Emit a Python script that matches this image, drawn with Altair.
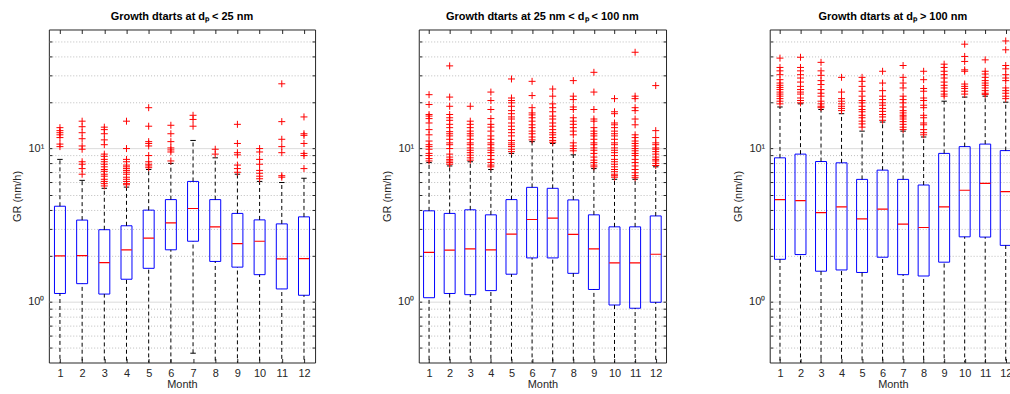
import altair as alt
import pandas as pd

MONTHS = list(range(1, 13))
TITLES = [
    "Growth dtarts at dₚ < 25 nm",
    "Growth dtarts at 25 nm < dₚ < 100 nm",
    "Growth dtarts at dₚ > 100 nm",
]
GRID_VALUES = [0.5, 0.6, 0.7, 0.8, 0.9, 1, 2, 3, 4, 5, 6, 7, 8, 9, 10, 20, 30, 40, 50]

P1_Q1 = [1.13, 1.31, 1.12, 1.40, 1.65, 2.18, 2.48, 1.83, 1.68, 1.50, 1.21, 1.10]
P1_MED = [1.99, 2.00, 1.80, 2.18, 2.60, 3.27, 4.06, 3.08, 2.39, 2.48, 1.90, 1.91]
P1_Q3 = [4.20, 3.41, 2.95, 3.13, 3.96, 4.64, 6.10, 4.64, 3.77, 3.42, 3.22, 3.58]
P1_HI = [8.5, 6.2, 5.5, 5.6, 7.3, 8.0, 11.3, 8.7, 6.8, 6.1, 6.0, 6.4]
P1_LO = [0.25, 0.3, 0.22, 0.3, 0.35, 0.32, 0.46, 0.3, 0.28, 0.3, 0.25, 0.2]
P1_OUT = [
    [13.7, 13.1, 12.7, 12.3, 11.8, 10.7, 10.3],
    [15.1, 13.9, 12.7, 11.6, 10.4, 9.9, 8.2, 7.9, 7.4, 6.8],
    [13.8, 13.3, 12.5, 11.4, 10.6, 9.2, 8.9, 8.5, 8.2, 7.9, 7.6, 7.3, 7.1, 6.8, 6.6, 6.3, 6.1, 5.9, 5.7],
    [15.1, 10.0, 8.5, 8.2, 7.8, 7.6, 7.4, 7.2, 7.0, 6.8, 6.5, 6.3, 6.1, 5.9, 5.8],
    [18.5, 14.0, 11.1, 10.8, 10.4, 9.0, 8.2, 7.9, 7.7, 7.5],
    [14.2, 12.5, 11.1, 10.1, 9.8, 9.5, 8.3],
    [16.5, 15.5, 14.0],
    [9.9, 9.2],
    [14.4, 10.8, 9.4, 9.1, 7.8, 7.4, 7.0],
    [10.0, 9.5, 8.5, 7.9, 7.2, 6.9, 6.6, 6.35],
    [26.5, 15.0, 11.5, 10.3, 9.4, 6.65, 6.5],
    [16.1, 12.5, 12.2, 10.8, 9.3, 9.0, 7.4],
]

P2_Q1 = [1.06, 1.13, 1.11, 1.18, 1.51, 1.93, 1.93, 1.53, 1.20, 0.95, 0.905, 0.99]
P2_MED = [2.10, 2.17, 2.21, 2.18, 2.76, 3.44, 3.51, 2.75, 2.21, 1.79, 1.79, 2.04]
P2_Q3 = [3.92, 3.77, 3.98, 3.69, 4.64, 5.58, 5.50, 4.62, 3.69, 3.08, 3.08, 3.63]
P2_HI = [8.1, 7.7, 8.2, 7.3, 9.3, 11.1, 10.8, 9.1, 7.4, 6.3, 6.3, 7.6]
P2_LO = [0.2, 0.22, 0.2, 0.25, 0.3, 0.35, 0.33, 0.3, 0.2, 0.15, 0.15, 0.18]
P2_OUT = [
    [22.5, 19.4, 16.7, 16.3, 15.7, 14.7, 13.3, 12.3, 11.2, 10.6, 10.3, 9.9, 9.3, 9.0, 8.6, 8.3],
    [34.7, 21.7, 18.9, 16.7, 15.9, 15.3, 14.4, 13.7, 12.9, 12.5, 12.1, 11.5, 10.9, 10.6, 10.0, 9.2, 8.8, 8.5, 8.3, 8.1, 7.9],
    [18.9, 15.1, 14.4, 13.7, 13.0, 12.5, 12.1, 11.5, 10.9, 10.6, 10.1, 9.75, 9.4, 9.05, 8.7, 8.4],
    [23.4, 20.6, 18.0, 15.7, 14.4, 13.8, 13.0, 12.1, 11.5, 10.9, 10.6, 10.1, 9.75, 9.4, 9.0, 8.5, 8.1, 7.8, 7.6],
    [28.5, 21.4, 20.6, 19.9, 18.9, 17.7, 16.9, 16.1, 15.6, 14.7, 14.0, 13.3, 12.7, 12.1, 11.3, 10.9, 10.6, 10.3, 9.9, 9.55],
    [27.5, 22.2, 18.5, 17.1, 16.6, 15.9, 15.1, 14.3, 13.7, 13.0, 12.5, 11.9, 11.4],
    [24.5, 22.0, 19.6, 18.5, 17.4, 16.3, 15.6, 14.7, 14.0, 13.3, 12.7, 12.3, 11.8, 11.3, 11.0],
    [27.8, 22.0, 20.9, 18.7, 18.0, 15.9, 15.1, 14.4, 13.7, 13.0, 12.3, 10.9, 10.4, 10.0, 9.67],
    [31.5, 23.4, 18.0, 15.6, 15.1, 13.7, 13.0, 12.5, 12.1, 11.5, 10.9, 10.6, 10.1, 9.75, 9.3, 8.8, 8.4, 8.1, 7.8, 7.6],
    [21.2, 17.4, 16.9, 14.7, 14.3, 13.7, 13.0, 12.5, 12.1, 11.5, 10.9, 10.6, 10.1, 9.75, 9.4, 9.0, 8.5, 8.2, 7.9, 7.6, 7.3, 7.06, 6.8, 6.65, 6.5],
    [42.6, 22.0, 21.2, 18.5, 17.7, 15.6, 14.3, 12.3, 11.8, 11.2, 10.8, 10.4, 10.0, 9.67, 9.3, 9.0, 8.5, 8.1, 7.7, 7.3, 6.95, 6.65, 6.45],
    [25.8, 13.1, 11.8, 10.9, 10.6, 10.1, 9.9, 9.55, 9.2, 8.8, 8.5, 8.3, 8.0, 7.75],
]

P3_Q1 = [1.89, 2.03, 1.58, 1.61, 1.55, 1.95, 1.50, 1.47, 1.81, 2.65, 2.64, 2.33]
P3_MED = [4.64, 4.57, 3.82, 4.16, 3.47, 4.02, 3.21, 3.05, 4.16, 5.34, 5.93, 5.23]
P3_Q3 = [8.7, 9.2, 8.23, 8.07, 6.29, 7.23, 6.29, 5.78, 9.3, 10.3, 10.7, 9.7]
P3_HI = [18.7, 19.6, 18.0, 16.9, 13.0, 14.9, 13.0, 11.9, 20.4, 21.7, 22.0, 20.1]
P3_LO = [0.3, 0.35, 0.25, 0.25, 0.22, 0.3, 0.2, 0.2, 0.28, 0.35, 0.35, 0.3]
P3_OUT = [
    [39.0, 33.9, 32.2, 30.4, 28.2, 26.8, 25.9, 25.1, 24.3, 23.4, 22.7, 22.0, 21.2, 20.4, 19.6],
    [39.5, 33.9, 32.2, 30.4, 28.9, 27.2, 25.5, 24.3, 23.4, 22.7, 21.4, 20.6, 19.9],
    [36.6, 32.2, 30.1, 27.8, 26.2, 24.3, 23.0, 22.0, 20.4, 19.6, 18.9, 18.5],
    [29.2, 23.4, 21.2, 20.4, 19.6, 18.9, 18.3, 17.7],
    [29.2, 27.5, 25.5, 23.7, 22.0, 20.6, 19.9, 18.9, 18.0, 17.4, 16.5, 15.9, 15.1, 14.5, 13.8],
    [32.0, 26.8, 23.9, 22.0, 20.9, 19.9, 19.2, 18.3, 17.5, 16.7, 16.1, 15.3],
    [34.9, 29.2, 26.8, 24.9, 22.0, 20.9, 19.9, 18.7, 17.7, 17.1, 16.5, 16.1, 15.6, 15.0, 14.4, 13.8, 13.3],
    [32.0, 28.2, 24.7, 23.7, 21.4, 20.6, 19.2, 18.5, 16.5, 15.9, 14.7, 14.3, 13.3, 12.7, 12.3],
    [35.6, 33.9, 32.0, 30.4, 28.9, 27.2, 25.9, 24.9, 23.7, 22.7, 22.0],
    [48.1, 40.0, 37.1, 32.7, 32.0, 26.4, 25.5, 24.7, 23.7, 22.7],
    [38.0, 32.0, 30.7, 29.2, 27.8, 26.8, 25.9, 24.9, 23.9, 23.0, 22.6],
    [50.5, 44.2, 34.9, 33.2, 30.4, 28.9, 27.8, 24.9, 23.9, 23.0, 22.0, 21.2],
]

FONT = "Liberation Sans"
TEXT = "#262626"
HLINE = "M-1,0L1,0"
PLUS = "M-1,0L1,0M0,-1L0,1"

main_x = alt.Axis(values=MONTHS, ticks=False, grid=False, domain=False, labelPadding=5,
                  title="Month", titlePadding=0, labelFlush=False, minExtent=0)
main_y = alt.Axis(values=GRID_VALUES, ticks=False, domain=False, labelPadding=5,
                  labelExpr="datum.value == 1 ? '10⁰' : (datum.value == 10 ? '10¹' : '')",
                  labelOverlap=False, labelFlush=False, title="GR (nm/h)", titlePadding=5,
                  minExtent=0, grid=True,
                  gridDash={"condition": {"test": "datum.value == 1 || datum.value == 10", "value": []},
                            "value": [1, 2]},
                  gridColor={"condition": {"test": "datum.value == 1 || datum.value == 10", "value": "#dcdcdc"},
                             "value": "#bdbdbd"})
in_x_bottom = alt.Axis(orient="bottom", values=MONTHS, offset=-4, tickSize=4, labels=False,
                       domain=False, grid=False, title=None, tickColor=TEXT, minExtent=0)
in_x_top = alt.Axis(orient="top", values=MONTHS, offset=-4, tickSize=4, labels=False,
                    domain=False, grid=False, title=None, tickColor=TEXT, minExtent=0)
in_y_left = alt.Axis(orient="left", values=GRID_VALUES, offset=-3, tickSize=3, labels=False,
                     domain=False, grid=False, title=None, tickColor=TEXT, minExtent=0)
in_y_right = alt.Axis(orient="right", values=GRID_VALUES, offset=-3, tickSize=3, labels=False,
                      domain=False, grid=False, title=None, tickColor=TEXT, minExtent=0)


def panel(title, q1, med, q3, hi, lo, outliers, width):
    stats = pd.DataFrame({"month": MONTHS, "q1": q1, "med": med, "q3": q3, "hi": hi, "lo": lo})
    out = pd.DataFrame([(m, v) for m, vals in zip(MONTHS, outliers) for v in vals],
                       columns=["month", "gr"])
    xs = alt.Scale(domain=[0.5, 12.5], nice=False, zero=False, padding=0)
    ys = alt.Scale(type="log", domain=[0.4, 60], nice=False, padding=0)
    base = alt.Chart(stats)

    box = base.mark_bar(width=11, fillOpacity=0, stroke="#0000ff", strokeWidth=1, clip=True).encode(
        x=alt.X("month:Q", scale=xs, axis=main_x),
        y=alt.Y("q1:Q", scale=ys, axis=main_y),
        y2="q3:Q",
    )
    median = base.mark_point(shape=HLINE, size=110, stroke="#ff0000", filled=False, opacity=1,
                             strokeWidth=1.2, clip=True).encode(
        x=alt.X("month:Q", scale=xs, axis=in_x_bottom),
        y=alt.Y("med:Q", scale=ys, axis=in_y_left),
    )
    upper = base.mark_rule(strokeDash=[4, 3], color="#000000", strokeWidth=1, clip=True).encode(
        x=alt.X("month:Q", scale=xs, axis=in_x_top),
        y=alt.Y("q3:Q", scale=ys, axis=in_y_right),
        y2="hi:Q",
    )
    lower = base.mark_rule(strokeDash=[4, 3], color="#000000", strokeWidth=1, clip=True).encode(
        x=alt.X("month:Q", scale=xs, axis=None),
        y=alt.Y("lo:Q", scale=ys, axis=None),
        y2="q1:Q",
    )
    cap_hi = base.mark_point(shape=HLINE, size=30, stroke="#000000", filled=False, opacity=1,
                             strokeWidth=1, clip=True).encode(
        x=alt.X("month:Q", scale=xs, axis=None),
        y=alt.Y("hi:Q", scale=ys, axis=None),
    )
    cap_lo = base.mark_point(shape=HLINE, size=30, stroke="#000000", filled=False, opacity=1,
                             strokeWidth=1, clip=True).encode(
        x=alt.X("month:Q", scale=xs, axis=None),
        y=alt.Y("lo:Q", scale=ys, axis=None),
    )
    pts = alt.Chart(out).mark_point(shape=PLUS, size=49, stroke="#ff0000", filled=False, opacity=1,
                                    strokeWidth=1, clip=True).encode(
        x=alt.X("month:Q", scale=xs, axis=None),
        y=alt.Y("gr:Q", scale=ys, axis=None),
    )
    return alt.layer(box, median, upper, lower, cap_hi, cap_lo, pts).resolve_axis(
        x="independent", y="independent"
    ).properties(
        width=width,
        height=334,
        title=alt.TitleParams(text=title, fontSize=11, fontWeight="bold", font=FONT, color="#000000",
                              frame="group", anchor="middle", offset=7),
    )


p1 = panel(TITLES[0], P1_Q1, P1_MED, P1_Q3, P1_HI, P1_LO, P1_OUT, 267)
p2 = panel(TITLES[1], P2_Q1, P2_MED, P2_Q3, P2_HI, P2_LO, P2_OUT, 248)
p3 = panel(TITLES[2], P3_Q1, P3_MED, P3_Q3, P3_HI, P3_LO, P3_OUT, 247)

chart = alt.hconcat(p1, p2, p3, spacing=65).properties(
    padding={"left": 11, "top": 10, "right": -7, "bottom": 0},
    background="#ffffff",
).configure_view(
    stroke=TEXT, strokeWidth=1
).configure_axis(
    labelFont=FONT, labelFontSize=11, labelColor=TEXT,
    titleFont=FONT, titleFontSize=11, titleFontWeight="normal", titleColor=TEXT,
)

chart.save("out.html", embed_options={"renderer": "svg", "actions": False})
